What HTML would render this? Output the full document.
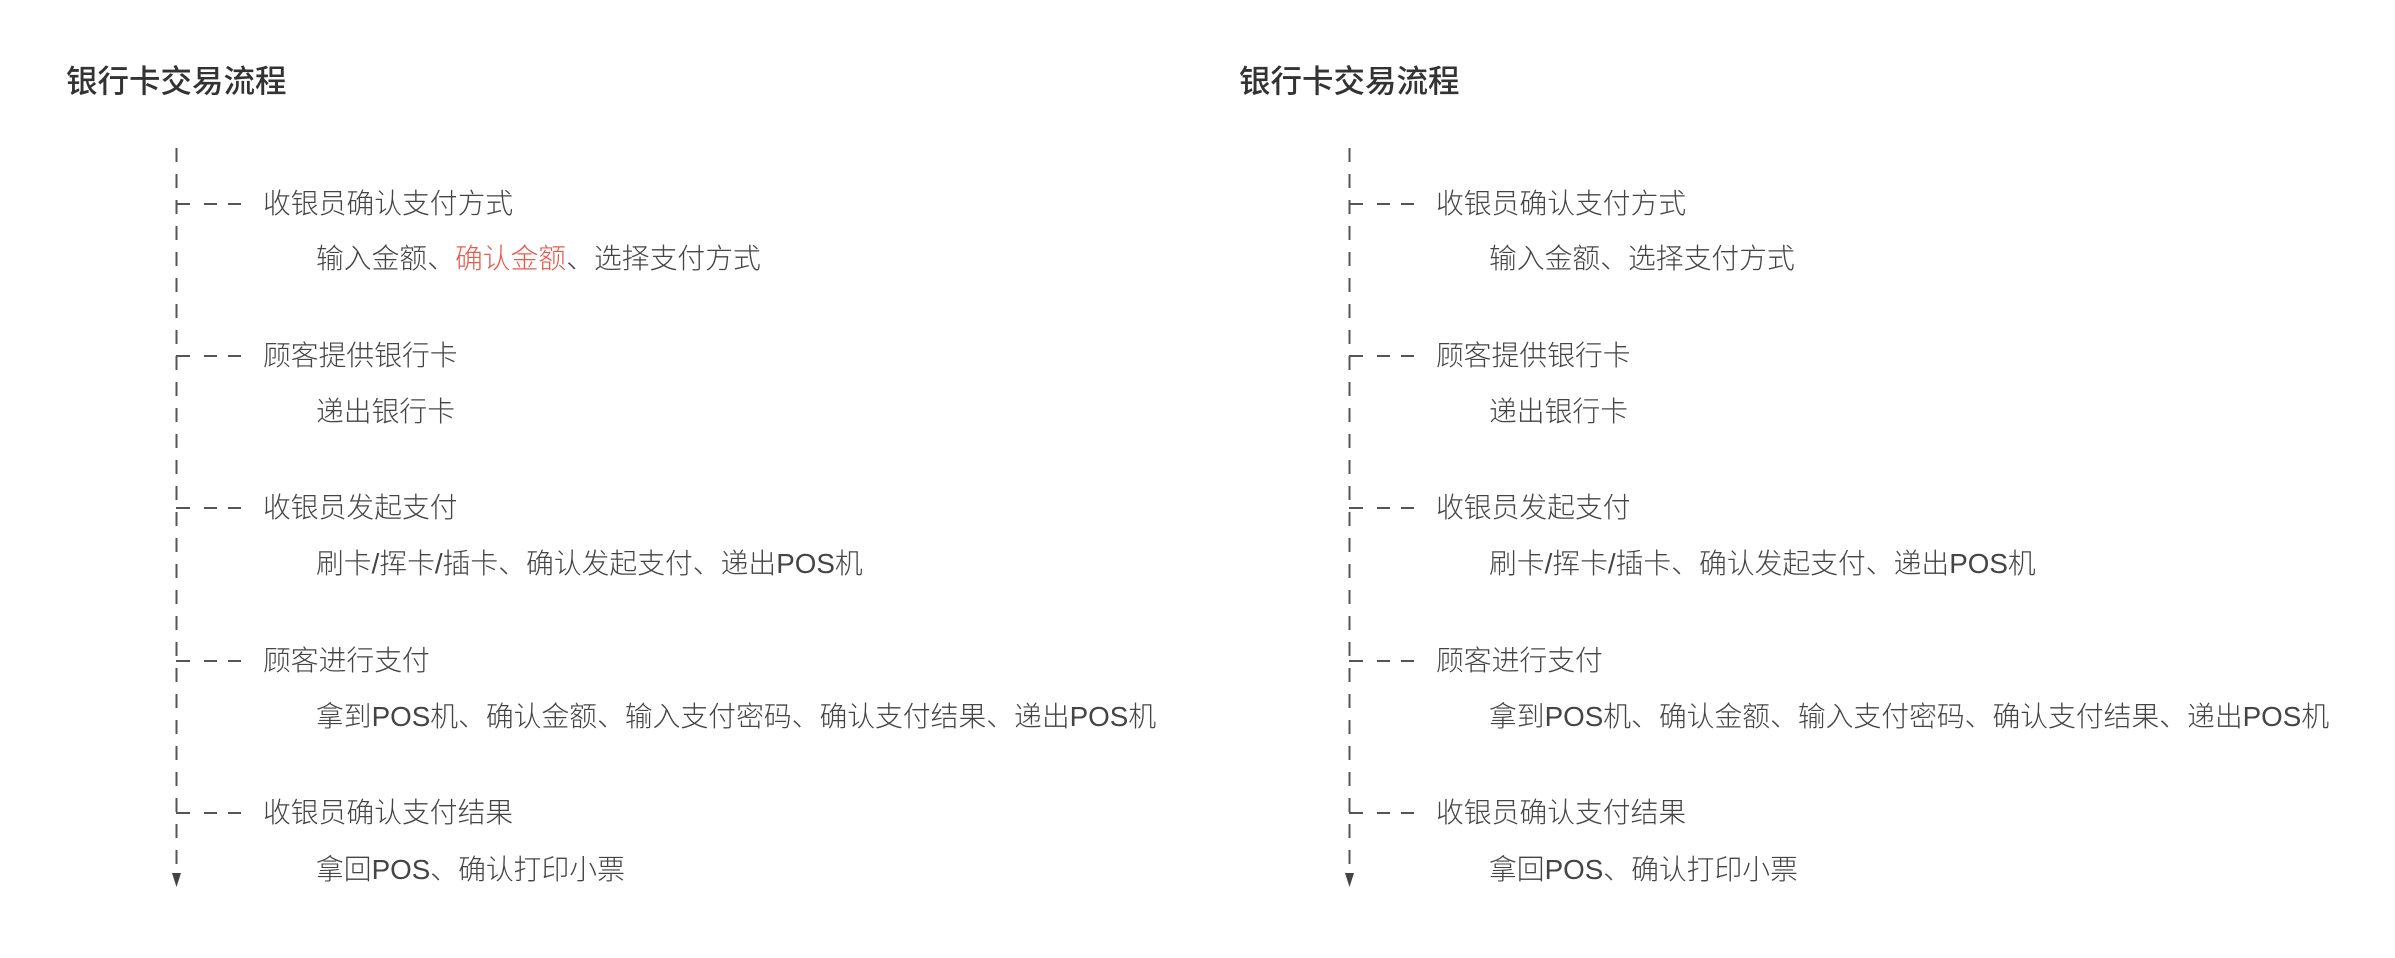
<!DOCTYPE html>
<html><head><meta charset="utf-8"><style>
html,body{margin:0;padding:0;background:#fff;width:2395px;height:958px;overflow:hidden}
svg text{font-family:"Liberation Sans","Noto Sans CJK SC",sans-serif;fill:#444}
.t{font-size:31.5px;font-weight:500;fill:#333}
.b{font-size:27.8px;font-weight:300}
.s{font-size:27.8px;font-weight:300}
</style></head><body>
<svg width="2395" height="958" viewBox="0 0 2395 958" xmlns="http://www.w3.org/2000/svg">
<defs>
<g id="tree">
  <line x1="176.5" y1="148" x2="176.5" y2="875" stroke="#555" stroke-width="2" stroke-dasharray="14 12"/>
  <polygon points="172,873 181,873 176.5,887" fill="#444"/>
  <g stroke="#555" stroke-width="2">
    <line x1="176" y1="204" x2="190" y2="204"/><line x1="204" y1="204" x2="217" y2="204"/><line x1="228" y1="204" x2="241" y2="204"/>
    <line x1="176" y1="356" x2="190" y2="356"/><line x1="204" y1="356" x2="217" y2="356"/><line x1="228" y1="356" x2="241" y2="356"/>
    <line x1="176" y1="508" x2="190" y2="508"/><line x1="204" y1="508" x2="217" y2="508"/><line x1="228" y1="508" x2="241" y2="508"/>
    <line x1="176" y1="661" x2="190" y2="661"/><line x1="204" y1="661" x2="217" y2="661"/><line x1="228" y1="661" x2="241" y2="661"/>
    <line x1="176" y1="813" x2="190" y2="813"/><line x1="204" y1="813" x2="217" y2="813"/><line x1="228" y1="813" x2="241" y2="813"/>
  </g>
</g>
</defs>
<g>
  <use href="#tree"/>
  <text class="t" x="66" y="92">银行卡交易流程</text>
  <text class="b" x="263" y="213">收银员确认支付方式</text>
  <text class="s" x="316" y="268">输入金额、<tspan style="fill:#e85a4f">确认金额</tspan>、选择支付方式</text>
  <text class="b" x="263" y="365">顾客提供银行卡</text>
  <text class="s" x="316" y="421">递出银行卡</text>
  <text class="b" x="263" y="517">收银员发起支付</text>
  <text class="s" x="316" y="573">刷卡/挥卡/插卡、确认发起支付、递出POS机</text>
  <text class="b" x="263" y="670">顾客进行支付</text>
  <text class="s" x="316" y="726">拿到POS机、确认金额、输入支付密码、确认支付结果、递出POS机</text>
  <text class="b" x="263" y="822">收银员确认支付结果</text>
  <text class="s" x="316" y="879">拿回POS、确认打印小票</text>
</g>
<g transform="translate(1173,0)">
  <use href="#tree"/>
  <text class="t" x="66" y="92">银行卡交易流程</text>
  <text class="b" x="263" y="213">收银员确认支付方式</text>
  <text class="s" x="316" y="268">输入金额、选择支付方式</text>
  <text class="b" x="263" y="365">顾客提供银行卡</text>
  <text class="s" x="316" y="421">递出银行卡</text>
  <text class="b" x="263" y="517">收银员发起支付</text>
  <text class="s" x="316" y="573">刷卡/挥卡/插卡、确认发起支付、递出POS机</text>
  <text class="b" x="263" y="670">顾客进行支付</text>
  <text class="s" x="316" y="726">拿到POS机、确认金额、输入支付密码、确认支付结果、递出POS机</text>
  <text class="b" x="263" y="822">收银员确认支付结果</text>
  <text class="s" x="316" y="879">拿回POS、确认打印小票</text>
</g>
</svg>
</body></html>
